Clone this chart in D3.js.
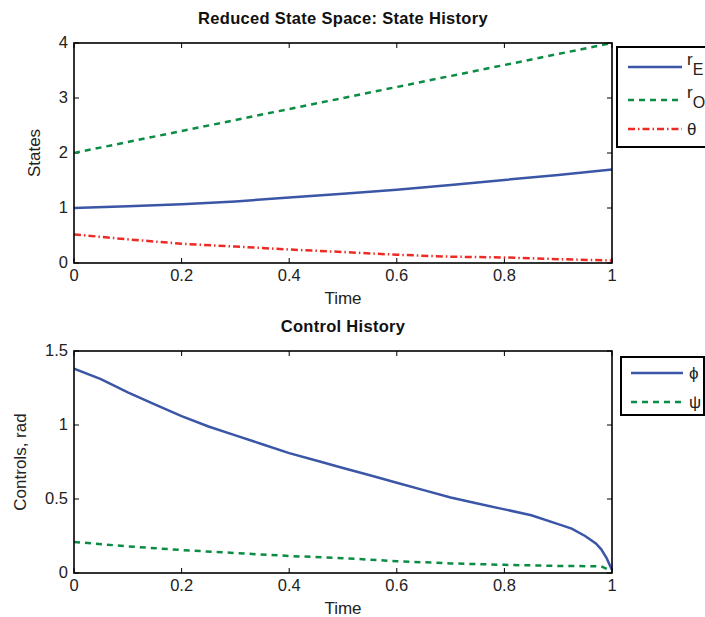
<!DOCTYPE html>
<html><head><meta charset="utf-8">
<script src="https://cdn.jsdelivr.net/npm/d3@7"></script>
<style>
body{margin:0;background:#fff;}
svg{display:block;font-family:"Liberation Sans",Arial,Helvetica,sans-serif;}
</style></head>
<body><svg id="c" width="705" height="617"></svg>
<script>
// ---- data ----
const tState = [0,0.1,0.2,0.3,0.4,0.5,0.6,0.7,0.8,0.9,1.0];
const rE     = [1.0,1.03,1.07,1.12,1.19,1.26,1.33,1.42,1.51,1.60,1.70];
const rO     = [2.0,2.2,2.4,2.6,2.8,3.0,3.2,3.4,3.6,3.8,4.0];
const theta  = [0.52,0.43,0.35,0.30,0.245,0.20,0.15,0.115,0.10,0.07,0.045];

const tPhi = [0,0.05,0.1,0.15,0.2,0.25,0.3,0.35,0.4,0.45,0.5,0.55,0.6,0.65,0.7,0.75,0.8,0.85,0.9,0.925,0.95,0.97,0.98,0.99,1.0];
const phi  = [1.38,1.31,1.22,1.14,1.06,0.99,0.93,0.87,0.81,0.76,0.71,0.66,0.61,0.56,0.51,0.47,0.43,0.39,0.33,0.30,0.25,0.20,0.16,0.10,0.02];
const tPsi = [0,0.1,0.2,0.3,0.4,0.5,0.6,0.7,0.8,0.9,0.98,1.0];
const psi  = [0.21,0.18,0.155,0.135,0.115,0.10,0.08,0.065,0.055,0.048,0.045,0.01];

const xTicks = [0,0.2,0.4,0.6,0.8,1];
const yTicksTop = [0,1,2,3,4];
const yTicksBot = [0,0.5,1,1.5];

const titles = ["Reduced State Space: State History","Control History"];
const xLabel = "Time";
const yLabels = ["States","Controls, rad"];

const colors = {blue:"#3b56a6", green:"#0b8c43", red:"#ed2b24"};
const styles = {solid:null, dashed:"6,5", dashdot:"7,3,1.5,3"};

const svg = d3.select("#c");
const L = 74, R = 612;

function panel(cfg){
  const g = svg.append("g");
  const x = d3.scaleLinear().domain([0,1]).range([L,R]);
  const y = d3.scaleLinear().domain(cfg.ydom).range([cfg.bottom,cfg.top]);
  const tk = 5;
  const ax = g.append("g").attr("font-size",16.5).attr("fill","#222");
  xTicks.forEach(v=>{
    ax.append("line").attr("x1",x(v)).attr("x2",x(v)).attr("y1",cfg.bottom).attr("y2",cfg.bottom-tk).attr("stroke","#000").attr("stroke-width",1);
    ax.append("line").attr("x1",x(v)).attr("x2",x(v)).attr("y1",cfg.top).attr("y2",cfg.top+tk).attr("stroke","#000").attr("stroke-width",1);
    ax.append("text").attr("x",x(v)).attr("y",cfg.bottom+18).attr("text-anchor","middle").text(d3.format("~g")(v));
  });
  cfg.yticks.forEach(v=>{
    ax.append("line").attr("x1",L).attr("x2",L+tk).attr("y1",y(v)).attr("y2",y(v)).attr("stroke","#000").attr("stroke-width",1);
    ax.append("line").attr("x1",R).attr("x2",R-tk).attr("y1",y(v)).attr("y2",y(v)).attr("stroke","#000").attr("stroke-width",1);
    ax.append("text").attr("x",L-6).attr("y",y(v)+5).attr("text-anchor","end").text(d3.format("~g")(v));
  });
  const clip = "clip"+cfg.id;
  g.append("clipPath").attr("id",clip).append("rect").attr("x",L).attr("y",cfg.top-2).attr("width",R-L+2).attr("height",cfg.bottom-cfg.top+3);
  cfg.series.forEach(s=>{
    const line = d3.line().x((d,i)=>x(s.t[i])).y(d=>y(d));
    g.append("path").attr("d",line(s.v)).attr("fill","none").attr("stroke",s.color)
      .attr("stroke-width",2.5).attr("stroke-dasharray",s.dash).attr("clip-path","url(#"+clip+")");
  });
  g.append("rect").attr("x",L).attr("y",cfg.top).attr("width",R-L).attr("height",cfg.bottom-cfg.top)
    .attr("fill","none").attr("stroke","#000").attr("stroke-width",1.6);
  g.append("text").attr("x",(L+R)/2).attr("y",cfg.top-19).attr("text-anchor","middle")
    .attr("font-weight","bold").attr("font-size",16.5).attr("letter-spacing",0.3).attr("fill","#111").text(cfg.title);
  g.append("text").attr("x",(L+R)/2).attr("y",cfg.bottom+41).attr("text-anchor","middle")
    .attr("font-size",17).attr("fill","#222").text(xLabel);
  g.append("text").attr("transform",`translate(${cfg.ylx},${(cfg.top+cfg.bottom)/2}) rotate(-90)`)
    .attr("text-anchor","middle").attr("font-size",17).attr("fill","#222").text(cfg.ylabel);
  const lg = cfg.legend;
  g.append("rect").attr("x",lg.x).attr("y",lg.y).attr("width",lg.w).attr("height",lg.h)
    .attr("fill","#fff").attr("stroke","#000").attr("stroke-width",2);
  cfg.series.forEach((s,i)=>{
    const yy = lg.rows[i];
    g.append("line").attr("x1",lg.lx1).attr("x2",lg.lx2).attr("y1",yy).attr("y2",yy)
      .attr("stroke",s.color).attr("stroke-width",2.5).attr("stroke-dasharray",s.dash);
    const t = g.append("text").attr("x",lg.tx).attr("y",yy+s.dy).attr("font-size",17).attr("fill","#222");
    t.append("tspan").text(s.name);
    if(s.sub) t.append("tspan").attr("dy",10).attr("font-size",16).text(s.sub);
  });
}

panel({id:1, top:43, bottom:263, ydom:[0,4], yticks:yTicksTop, title:titles[0], ylabel:yLabels[0], ylx:40,
  series:[
    {t:tState, v:rE, color:colors.blue, dash:styles.solid, name:"r", sub:"E", dy:-2},
    {t:tState, v:rO, color:colors.green, dash:styles.dashed, name:"r", sub:"O", dy:-2},
    {t:tState, v:theta, color:colors.red, dash:styles.dashdot, name:"\u03B8", dy:6}
  ],
  legend:{x:617, y:47, w:100, h:100, lx1:628, lx2:682, tx:687, rows:[67,100,129]}
});
panel({id:2, top:351, bottom:573, ydom:[0,1.5], yticks:yTicksBot, title:titles[1], ylabel:yLabels[1], ylx:26,
  series:[
    {t:tPhi, v:phi, color:colors.blue, dash:styles.solid, name:"\u03D5", dy:6},
    {t:tPsi, v:psi, color:colors.green, dash:styles.dashed, name:"\u03C8", dy:6}
  ],
  legend:{x:621, y:357, w:83, h:58, lx1:631, lx2:683, tx:689, rows:[373,402]}
});
</script></body></html>
